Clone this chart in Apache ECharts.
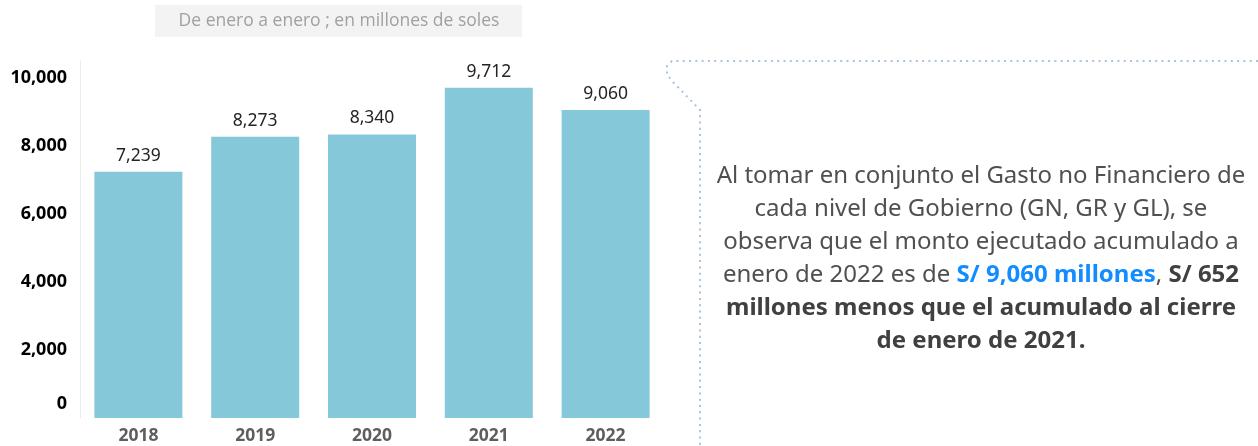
<!DOCTYPE html>
<html>
<head>
<meta charset="utf-8">
<script src="https://cdn.jsdelivr.net/npm/echarts@6/dist/echarts.min.js"></script>
<style>
  html, body { margin: 0; padding: 0; background: #fff; }
  #chart { width: 1258px; height: 446px; }
</style>
</head>
<body>
<div id="chart"></div>
<script>
const years = ['2018', '2019', '2020', '2021', '2022'];
const gasto = [7239, 8273, 8340, 9712, 9060];
const yTicks = [0, 2000, 4000, 6000, 8000, 10000];

const fmt = v => v.toLocaleString('en-US');

const chart = echarts.init(document.getElementById('chart'));
chart.setOption({
    animation: false,
    textStyle: { fontFamily: 'Noto Sans' },
    grid: { left: 80, right: 594, top: 61, bottom: 28 },
    xAxis: {
        type: 'category',
        data: years,
        axisLine: { show: false },
        axisTick: { show: false },
        axisLabel: {
            margin: 9,
            fontSize: 17.5,
            fontWeight: 'bold',
            color: '#605e5c'
        }
    },
    yAxis: {
        type: 'value',
        min: 0,
        max: 10500,
        interval: 2000,
        axisLine: { show: true, lineStyle: { color: '#ececec', width: 1 } },
        axisTick: { show: false },
        splitLine: { show: false },
        axisLabel: {
            margin: 13,
            fontSize: 18,
            fontWeight: 'bold',
            color: '#000',
            formatter: v => {
                if (!yTicks.includes(v)) return '';
                return v === 0 ? '{z|0}' : fmt(v);
            },
            rich: {
                z: { fontSize: 18, fontWeight: 'bold', color: '#000', padding: [0, 0, 28, 0] }
            }
        }
    },
    series: [{
        type: 'bar',
        data: gasto,
        barWidth: 88,
        itemStyle: { color: '#85c8da' },
        label: {
            show: true,
            position: 'top',
            distance: 7,
            fontSize: 17.5,
            color: '#252423',
            formatter: p => fmt(p.value)
        }
    }],
    graphic: [
        {
            type: 'rect',
            shape: { x: 155, y: 5, width: 367, height: 32 },
            style: { fill: '#f3f3f3' }
        },
        {
            type: 'text',
            x: 339, y: 21,
            style: {
                text: 'De enero a enero ; en millones de soles',
                font: '17.5px "Open Sans"',
                fill: '#a0a0a0',
                align: 'center',
                verticalAlign: 'middle'
            }
        },
        {
            type: 'polyline',
            shape: {
                points: [[1258, 61], [672, 61], [667, 66], [667, 74], [672, 81], [700, 110], [700, 446]]
            },
            style: { stroke: '#a9c3dd', lineWidth: 2, lineDash: [2, 4.3], fill: null }
        },
        {
            type: 'text',
            x: 981, y: 259,
            style: {
                text: [
                    '{n|Al tomar en conjunto el Gasto no Financiero de}',
                    '{n|cada nivel de Gobierno (GN, GR y GL), se}',
                    '{n|observa que el monto ejecutado acumulado a}',
                    '{n|enero de 2022 es de }{c|S/ 9,060 millones}{n|, }{b|S/ 652}',
                    '{b|millones menos que el acumulado al cierre}',
                    '{b|de enero de 2021.}'
                ].join('\n'),
                align: 'center',
                verticalAlign: 'middle',
                rich: {
                    n: { fontFamily: 'Noto Sans', fontSize: 24, fill: '#505050', lineHeight: 33, align: 'center' },
                    b: { fontFamily: 'Noto Sans', fontSize: 24, fontWeight: 'bold', fill: '#404040', lineHeight: 33, align: 'center' },
                    c: { fontFamily: 'Noto Sans', fontSize: 24, fontWeight: 'bold', fill: '#118dff', lineHeight: 33, align: 'center' }
                }
            }
        }
    ]
});
</script>
</body>
</html>
